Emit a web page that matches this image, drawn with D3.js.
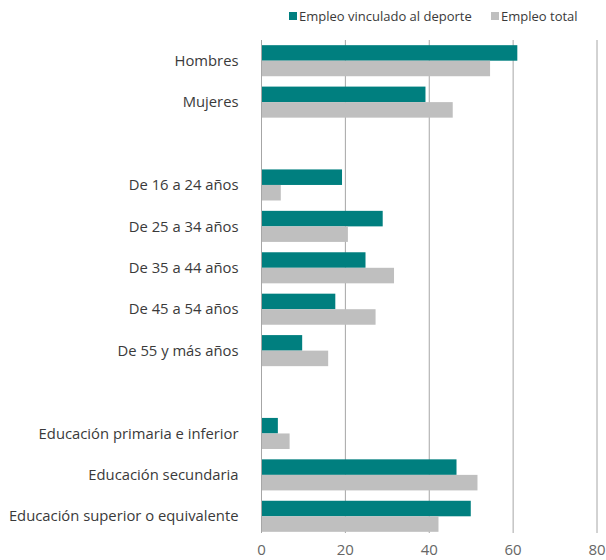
<!DOCTYPE html>
<html>
<head>
<meta charset="utf-8">
<script src="https://cdn.jsdelivr.net/npm/d3@7"></script>
<style>
  body { margin: 0; background: #fff; }
  text { font-family: "Open Sans", Lato, sans-serif; }
</style>
</head>
<body>
<div id="chart"></div>
<script>
// categorias (las cadenas vacias son filas de separacion)
var categorias = ["Hombres", "Mujeres", "",
  "De 16 a 24 años", "De 25 a 34 años", "De 35 a 44 años", "De 45 a 54 años", "De 55 y más años", "",
  "Educación primaria e inferior", "Educación secundaria", "Educación superior o equivalente"];
var deporte = [61.0, 39.1, null, 19.2, 28.9, 24.8, 17.6, 9.7, null, 3.9, 46.5, 49.9];
var total   = [54.5, 45.6, null, 4.6, 20.6, 31.6, 27.2, 15.9, null, 6.7, 51.5, 42.2];
var series = ["Empleo vinculado al deporte", "Empleo total"];
var colores = ["#007f7f", "#bfbfbf"];
var xTicks = [0, 20, 40, 60, 80];

var W = 606, H = 560;
var margin = { top: 40, right: 9, bottom: 23, left: 261.5 };

var svg = d3.select("#chart").append("svg")
  .attr("width", W).attr("height", H);

var g = svg.append("g")
  .attr("transform", "translate(" + margin.left + "," + margin.top + ")");

var x = d3.scaleLinear().domain([0, 80]).range([0, 335.5]);
var y = d3.scaleBand().domain(d3.range(categorias.length)).range([0, 497])
  .paddingInner(0.25).paddingOuter(0.125);
var y1 = d3.scaleBand().domain([0, 1]).range([0, y.bandwidth()]);

// grid
g.selectAll(".grid").data(xTicks.slice(1)).enter().append("line")
  .attr("x1", d => x(d)).attr("x2", d => x(d))
  .attr("y1", 0).attr("y2", 493)
  .attr("stroke", "#a6a6a6").attr("stroke-width", 1);

var filas = categorias.map((c, i) => ({ i: i, c: c, v: [deporte[i], total[i]] }));

var grupo = g.selectAll(".fila").data(filas.filter(d => d.c !== "")).enter().append("g")
  .attr("transform", d => "translate(0," + y(d.i) + ")");

grupo.selectAll("rect").data(d => d.v.map((v, k) => ({ k: k, v: v }))).enter().append("rect")
  .attr("x", 0)
  .attr("y", d => y1(d.k))
  .attr("width", d => x(d.v))
  .attr("height", y1.bandwidth())
  .attr("fill", d => colores[d.k]);

// etiquetas
g.selectAll(".lab").data(filas.filter(d => d.c !== "")).enter().append("text")
  .attr("x", -23)
  .attr("y", d => y(d.i) + y.bandwidth() / 2)
  .attr("dy", "0.35em")
  .attr("text-anchor", "end")
  .attr("font-size", 14.8)
  .attr("fill", "#3a3a3a")
  .text(d => d.c);

// eje y
g.append("line").attr("x1", 0).attr("x2", 0).attr("y1", 0).attr("y2", 493)
  .attr("stroke", "#a6a6a6");

// eje x (solo etiquetas)
g.selectAll(".xt").data(xTicks).enter().append("text")
  .attr("x", d => x(d))
  .attr("y", 515)
  .attr("text-anchor", "middle")
  .attr("font-size", 15)
  .attr("fill", "#666")
  .text(d => d);

// leyenda
var leg = svg.append("g");
var legX = [289, 491];
series.forEach(function(s, k) {
  leg.append("rect").attr("x", legX[k]).attr("y", 12).attr("width", 8).attr("height", 8)
    .attr("fill", colores[k]);
  leg.append("text").attr("x", legX[k] + 10).attr("y", 21)
    .attr("font-size", 13).attr("fill", "#3a3a3a").text(s);
});
</script>
</body>
</html>
